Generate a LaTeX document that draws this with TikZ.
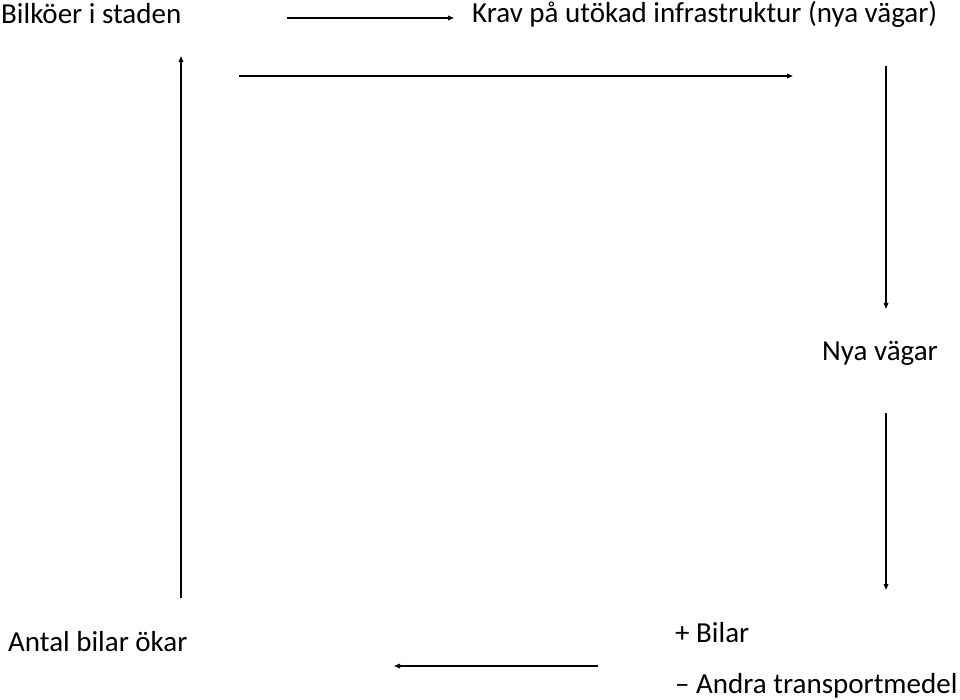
\documentclass[tikz,border=0pt]{standalone}
\usepackage{fontspec}
\setmainfont{Carlito}
\usetikzlibrary{arrows.meta}
\begin{document}
\begin{tikzpicture}[x=1pt,y=-1pt,
  lbl/.style={inner sep=0pt,anchor=west,font=\fontsize{29}{34}\selectfont},
  arr/.style={line width=1.6pt,-{Triangle[length=6pt,width=4.5pt]}}]
\useasboundingbox (0,0) rectangle (960,700);
\node[lbl] (bil) at (1,14) {Bilköer i staden};
\node[lbl] (krav) at (472,14) {Krav på utökad infrastruktur (nya vägar)};
\node[lbl] (nya) at (822,353) {Nya vägar};
\node[lbl] (antal) at (8,642) {Antal bilar ökar};
\node[lbl] (plus) at (675,633) {+ Bilar};
\node[lbl] (minus) at (675,686) {– Andra transportmedel};
\coordinate (a1) at (287,18); \coordinate (a2) at (454,18);
\coordinate (b1) at (239,76); \coordinate (b2) at (793,76);
\coordinate (c1) at (886,66); \coordinate (c2) at (886,309);
\coordinate (d1) at (886,413); \coordinate (d2) at (886,590);
\coordinate (e1) at (598,666); \coordinate (e2) at (394,666);
\coordinate (f1) at (181,598); \coordinate (f2) at (181,56);
\draw[arr] (a1) -- (a2);
\draw[arr] (b1) -- (b2);
\draw[arr] (c1) -- (c2);
\draw[arr] (d1) -- (d2);
\draw[arr] (e1) -- (e2);
\draw[arr] (f1) -- (f2);
\end{tikzpicture}
\end{document}
